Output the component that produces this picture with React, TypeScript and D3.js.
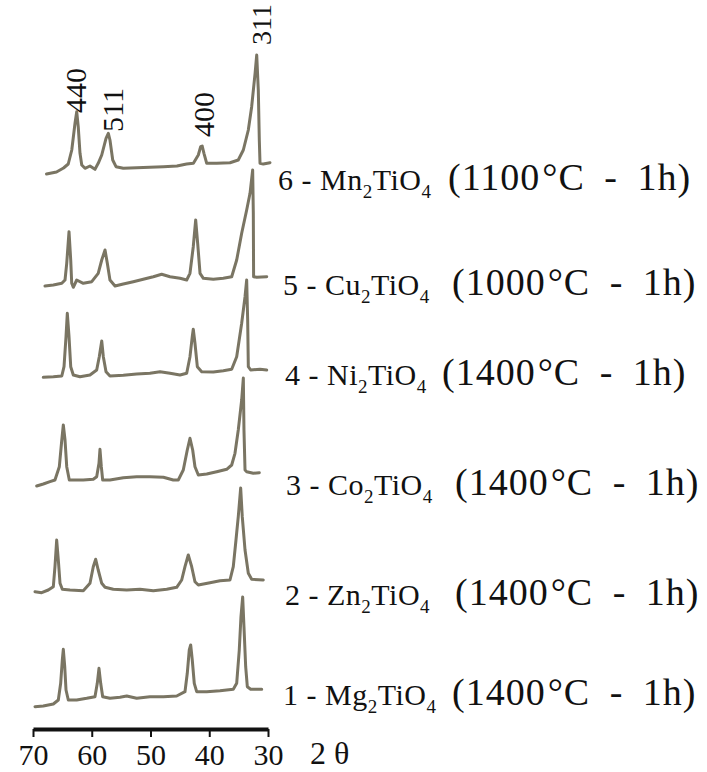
import * as d3 from 'd3';
import { useRef, useEffect } from 'react';

// 2θ axis ticks
const tickValues = [70, 60, 50, 40, 30];

// samples, bottom to top
const sampleNumbers = ['1', '2', '3', '4', '5', '6'];
const metals = ['Mg', 'Zn', 'Co', 'Ni', 'Cu', 'Mn'];
const temperatures = [1400, 1400, 1400, 1400, 1000, 1100];
const offsets = [35, 145, 255, 360, 455, 565]; // vertical stacking shift (a.u.)

// reflections marked above the top pattern
const millerIndices = ['440', '511', '400', '311'];
const millerAt = [62.85, 56.55, 41.06, 31.19];

// [2θ, intensity]
const mgPattern: [number, number][] = [
  [69.66, -6.7], [68.25, -6], [66.54, -4], [65.69, 0], [65.29, 16.7], [65.01, 40], [64.84, 50.7],
  [64.6, 33.3], [64.38, 10], [63.99, 0], [62.56, 0], [60.86, 1.7], [59.45, 3.3], [59.06, 16.7],
  [58.77, 31.7], [58.48, 16.7], [58.14, 3.3], [56.9, 1.7], [55.19, 2.7], [54.05, 4], [52.35, 1.7],
  [50.1, 3.3], [47.8, 3.3], [45.54, 4], [44.13, 8.3], [43.74, 26.7], [43.4, 50], [43.16, 55],
  [42.89, 40], [42.55, 16.7], [42.14, 8.3], [40.43, 8.3], [38.17, 9.3], [35.91, 10.7], [35.33, 16.7],
  [34.89, 50], [34.6, 83.3], [34.31, 103], [34.09, 73.3], [33.8, 33.3], [33.52, 13.3], [32.95, 10.7],
  [31.07, 10.7],
];

const znPattern: [number, number][] = [
  [69.66, -1.7], [68.52, -2.7], [67.4, 0], [66.54, 3.3], [66.26, 23.3], [65.97, 50], [65.69, 30],
  [65.4, 6.7], [65.01, 0.7], [63.7, 0], [61.44, -0.7], [60.3, 6.7], [59.74, 23.3], [59.33, 30.7],
  [58.9, 20], [58.3, 6.7], [57.74, 2.7], [56.33, 0.7], [54.05, 0], [51.79, 0.7], [49.52, -0.7],
  [47.24, 0.7], [45.54, 2.7], [44.69, 10], [44.13, 23.3], [43.57, 35], [42.99, 23.3], [42.43, 8.3],
  [41.86, 5], [39.87, 7.3], [38.17, 9.3], [36.47, 10], [35.91, 23.3], [35.45, 50], [35.06, 73.3],
  [34.65, 102], [34.38, 73.3], [33.91, 40], [33.35, 16.7], [32.78, 10.7], [30.8, 10],
];

const coPattern: [number, number][] = [
  [69.37, -6], [68.25, -4], [67.11, -1.7], [66.26, 0], [65.52, 13.3], [65.1, 40], [64.84, 55],
  [64.55, 40], [64.26, 13.3], [63.82, 0], [63.14, 0], [61.44, 0], [59.74, 0.7], [59.16, 3.3],
  [58.77, 16.7], [58.6, 30.7], [58.37, 13.3], [58.14, 0], [56.9, 0], [54.63, 2.3], [52.35, 3.3],
  [50.1, 3.3], [47.8, 2.7], [46.12, 0], [45.27, 0], [44.42, 10], [43.74, 30], [43.28, 41.7],
  [42.82, 30], [42.43, 13.3], [41.86, 5], [40.43, 6], [38.73, 8.3], [37.03, 10.7], [36.18, 15],
  [35.62, 26.7], [35.06, 50], [34.48, 80], [34.2, 102], [34.09, 50], [33.91, 10], [33.63, 8.3],
  [32.5, 6.7], [31.48, 7.3],
];

const niPattern: [number, number][] = [
  [68.25, -2.3], [66.54, -1.7], [65.1, -1], [64.72, 8.3], [64.38, 38.3], [64.16, 61.7], [63.87, 38.3],
  [63.58, 8.3], [63.14, 0], [62.0, -1.7], [60.3, 0], [59.16, 5], [58.72, 18.3], [58.3, 34],
  [58.03, 18.3], [57.57, 3.3], [56.9, -1], [54.63, -0.3], [52.35, 1], [50.1, 1.7], [48.38, 3.3],
  [46.68, 1.7], [44.98, 0], [43.84, 1.7], [43.28, 18.3], [42.89, 38.3], [42.72, 45.7], [42.43, 31.7],
  [42.03, 8.3], [41.29, 3.3], [39.31, 3], [37.61, 4.3], [36.18, 5.7], [35.33, 18.3], [34.48, 51.7],
  [33.91, 78.3], [33.63, 95], [33.46, 55], [33.35, 8.3], [32.95, 5], [31.36, 5.7], [30.22, 5],
];

const cuPattern: [number, number][] = [
  [67.96, -6], [66.54, -5], [65.1, -3.3], [64.55, 0], [64.26, 16.7], [63.87, 48.3], [63.58, 20],
  [63.41, -3.3], [63.14, -7.3], [62.56, 0], [61.44, -3.3], [60.0, -1.7], [58.9, 6.7], [58.3, 20],
  [57.74, 30], [57.35, 16.7], [56.9, 0], [56.04, -6], [54.63, -4], [52.93, -1.7], [51.23, 0.7],
  [49.52, 3.3], [48.1, 5.7], [46.68, 3.3], [44.98, 1.7], [43.84, 0], [43.28, 6.7], [42.72, 33.3],
  [42.31, 60], [41.97, 36.7], [41.57, 6.7], [41.0, 1.7], [39.31, 0.7], [37.61, 1.7], [36.18, 3.3],
  [35.33, 20], [34.48, 46.7], [33.63, 70], [33.06, 86.7], [32.61, 110], [32.5, 67], [32.45, 3.3],
  [31.92, 2.7], [30.22, 3.3],
];

const mnPattern: [number, number][] = [
  [67.7, -4], [66.0, -2], [64.8, 2], [64.0, 6], [63.4, 20], [62.85, 46.7], [62.56, 58.3],
  [62.3, 43.3], [62.0, 16.7], [61.7, 5], [61.15, 1.7], [60.3, 4], [59.45, 0.7], [58.9, 6.7],
  [58.3, 15], [57.57, 31.7], [57.18, 36.7], [56.9, 30], [56.43, 10], [55.87, 3.3], [54.63, 1.7],
  [52.35, 2.3], [50.1, 2.7], [47.8, 3.3], [45.5, 4], [43.85, 6], [42.7, 6.7], [41.86, 15],
  [41.46, 23.3], [41.2, 24], [40.9, 16.7], [40.43, 6.7], [38.73, 6.7], [36.47, 7.3], [35.06, 10],
  [34.2, 20], [33.35, 40], [32.78, 63.3], [32.2, 96.7], [31.92, 115], [31.65, 80], [31.48, 30],
  [31.36, 6.7], [30.8, 6], [29.66, 7.3],
];

const patterns = [mgPattern, znPattern, coPattern, niPattern, cuPattern, mnPattern];

// text layout
const labelX = [283, 285, 286, 285, 283, 278];
const conditionX = [452, 455, 455, 442, 452, 448];
const labelY = [705, 605, 495, 385, 295, 190];
const millerBottom = [113, 132, 137, 45];

const serif = '"Liberation Serif", "Times New Roman", serif';
const traceColor = '#7a7563';

export default function App() {
  const svgRef = useRef<SVGSVGElement | null>(null);

  useEffect(() => {
    const width = 707;
    const height = 772;
    const axisY = 729;

    const x = d3.scaleLinear().domain([70, 30]).range([33, 268]);
    const y = d3.scaleLinear().domain([0, 735]).range([735, 0]);

    const svg = d3.select(svgRef.current)
      .attr('width', width)
      .attr('height', height)
      .style('font-family', serif);
    svg.selectAll('*').remove();

    svg.append('rect').attr('width', width).attr('height', height).attr('fill', '#fff');

    // stacked patterns
    patterns.forEach((pts, i) => {
      const line = d3.line<[number, number]>()
        .x((d) => x(d[0]))
        .y((d) => y(d[1] + offsets[i]));
      svg.append('path')
        .datum(pts)
        .attr('d', line)
        .attr('fill', 'none')
        .attr('stroke', traceColor)
        .attr('stroke-width', 3)
        .attr('stroke-linejoin', 'round')
        .attr('stroke-linecap', 'round');
    });

    // sample labels
    patterns.forEach((_, i) => {
      const t = svg.append('text')
        .attr('x', labelX[i])
        .attr('y', labelY[i])
        .attr('fill', '#111')
        .style('font-size', '30px')
        .style('letter-spacing', '0.5px');
      t.append('tspan').text(`${sampleNumbers[i]} - ${metals[i]}`);
      t.append('tspan').attr('dy', 8).style('font-size', '19px').text('2');
      t.append('tspan').attr('dy', -8).text('TiO');
      t.append('tspan').attr('dy', 8).style('font-size', '19px').text('4');

      const c = svg.append('text')
        .attr('x', conditionX[i])
        .attr('y', labelY[i])
        .attr('fill', '#111')
        .style('font-size', '38px')
        .style('letter-spacing', '1px')
        .style('word-spacing', '9px');
      c.append('tspan').text(`(${temperatures[i]}`);
      c.append('tspan').attr('dx', 2).text('°');
      c.append('tspan').text('C - 1h)');
    });

    // reflection indices
    millerIndices.forEach((m, i) => {
      svg.append('text')
        .attr('transform', `translate(${x(millerAt[i])},${millerBottom[i]}) rotate(-90)`)
        .attr('dy', '0.35em')
        .attr('fill', '#111')
        .style('font-size', i === 3 ? '28px' : '30px')
        .text(m);
    });

    // 2θ axis
    const axis = svg.append('g')
      .attr('transform', `translate(0,${axisY})`)
      .call(d3.axisBottom(x).tickValues(tickValues).tickSize(8).tickSizeOuter(0).tickPadding(7).tickFormat(d3.format('d')));
    axis.select('.domain').attr('stroke', '#111').attr('stroke-width', 4);
    axis.selectAll('.tick line').attr('stroke', '#111').attr('stroke-width', 2);
    axis.selectAll('.tick text')
      .attr('fill', '#111')
      .style('font-family', serif)
      .style('font-size', '30px');

    svg.append('text')
      .attr('x', 310)
      .attr('y', 764)
      .attr('fill', '#111')
      .style('font-size', '32px')
      .style('white-space', 'pre')
      .text('2 θ');
  }, []);

  return (
    <div style={{ position: 'absolute', left: 0, top: 0 }}>
      <svg ref={svgRef}></svg>
    </div>
  );
}
